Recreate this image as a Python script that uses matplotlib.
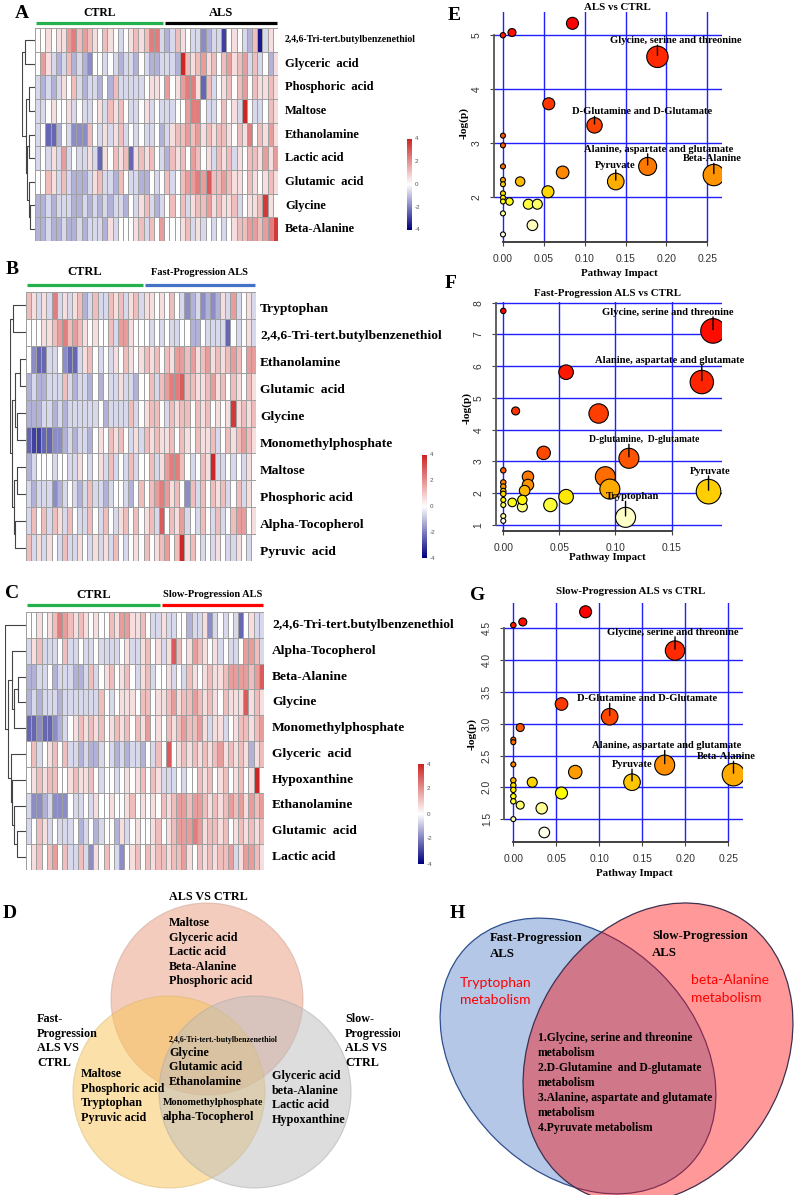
import numpy as np
import matplotlib
matplotlib.use("Agg")
import matplotlib.pyplot as plt
from matplotlib.colors import LinearSegmentedColormap, hsv_to_rgb
from matplotlib.lines import Line2D
from matplotlib.patches import Circle, Ellipse

SERIF = "Liberation Serif"
SANS = "Liberation Sans"

# ---- heatmap data: one hex digit per sample, value = (digit - 8) * 0.6 ----
a_names = ["2,4,6-Tri-tert.butylbenzenethiol", "Glyceric  acid", "Phosphoric  acid", "Maltose",
           "Ethanolamine", "Lactic acid", "Glutamic  acid", "Glycine", "Beta-Alanine"]
a_cells = [
    "88989 9bcab a98a9 8789a 9acc7 | 67a98 77567 73898 76a27 98",
    "8b976 7a676 58878 76776 87667 | 776fa 9ab9a 8ab9a b7a78 69",
    "76767 98a76 77686 a7777 78998 | b89bc c94a7 89a8a b8a99 a9",
    "77898 89787 7897a 9a877 89787 | 7788b cc877 8a897 f8778 a9",
    "78446 87555 a8797 9a787 87786 | 79aab ab9a9 aa98a 9c8a9 b9",
    "78797 b7877 97498 a9a49 a9a87 | 6a9a8 ba897 a9a79 8aa9b 9b",
    "88a97 a7666 79a77 6a877 66878 | a78ab bcbda aba99 8a989 a9",
    "66767 77667 67676 77687 9a767 | 8a8a7 9aab9 a99a7 899ae 98",
    "66766 76676 77769 78889 a7a8b | 8889a 79787 8789a abbab ce",
]
a_groups = [("CTRL", 25, "#22b14c", 8.5), ("ALS", 22, "black", 9)]
a_tree = ((0, 1, 0.8), ((2, 3, 0.45), ((4, 5, 0.45), (6, (7, 8, 0.4), 0.5), 0.6), 0.7), 1.0)

b_names = ["Tryptophan", "2,4,6-Tri-tert.butylbenzenethiol", "Ethanolamine", "Glutamic  acid",
           "Glycine", "Monomethylphosphate", "Maltose", "Phosphoric acid", "Alpha-Tocopherol",
           "Pyruvic  acid"]
b_cells = [
    "a9797 c7979 a67a7 7a9a7 9a7 | 99898 a8756 75656 97b78 97",
    "88899 abcab a9898 8a7bb 988 | 87878 77886 68777 74878 97",
    "85447 78544 79a87 8798a 989 | a9a8a 9bbab 9ab9a 9aba8 bb",
    "67667 77a76 77686 87797 768 | 8a7ab ccdaa 99ab9 a8a98 a9",
    "66677 67677 77778 67777 a78 | 9aa87 a9aa8 a9a89 89e9a 9a",
    "43344 55676 77689 8a9a8 797 | a9a99 a8a98 a99a7 8a9ab a9",
    "67888 78877 98789 7a787 a78 | 8a79b cca87 8a9f7 78787 98",
    "76777 56787 67a77 67887 68a | 8abcb 9a85a 7a8a9 a78a7 98",
    "7a8a7 a97a8 77a87 a879a 8a8 | 9a7d8 a9b78 7a87a 78abb 89",
    "a7979 87a77 98797 97a87 898 | a89ab 8af9a 87879 87798 78",
]
b_groups = [("CTRL", 23, "#22b14c", 9), ("Fast-Progression ALS", 22, "#4472c4", 7.5)]
b_tree = ((0, 1, 0.8), (((2, 3, 0.38), (4, 5, 0.56), 0.69), ((6, 7, 0.56), (8, 9, 0.69), 0.75), 0.87), 1.0)

c_names = ["2,4,6-Tri-tert.butylbenzenethiol", "Alpha-Tocopherol", "Beta-Alanine", "Glycine",
           "Monomethylphosphate", "Glyceric  acid", "Hypoxanthine", "Ethanolamine",
           "Glutamic  acid", "Lactic acid"]
c_cells = [
    "88989 acba9 a9898 8a9bb 99a877 | 97788 67795 78787 48977",
    "79a77 78a77 87787 77789 779a89 | 79da8 9ba98 97877 8bba7",
    "66778 67776 67a78 9a89a 879a78 | 89787 a989a 99abb bbabd",
    "67677 76777 7777a 87899 98aa89 | 9ab9a aba9a 98a99 9d9a9",
    "44544 56789 a9a9a 89a9a 8a9b89 | 8a9ab aab97 99789 aa9ab",
    "8a789 a8a77 67667 87676 77687a | 8d89a 9a9a9 ab9a9 a969a",
    "89a9a a889a 99a87 88789 89a8a9 | 77787 88a9a 89a89 a89f8",
    "75567 55587 78798 89889 a89898 | a9abb abba9 a9aba b9bab",
    "78a97 87778 67867 88697 89889a | 89abb bcb9a a9a89 a9a9a",
    "89a8a b8a77 a7598 a8758 9a8a9a | a9aab 98a9a 9aab7 9bba9",
]
c_groups = [("CTRL", 26, "#22b14c", 9), ("Slow-Progression ALS", 20, "#ff0000", 7.5)]
c_tree = (0, ((1, ((2, 3, 0.4), 4, 0.55), 0.65), (5, (6, (7, (8, 9, 0.45), 0.55), 0.65), 0.72), 0.85), 1.0)

# ---- pathway bubble data: impact, -log(p), bubble radius (px) ----
e_x = [0.0, 0.011, 0.085, 0.189, 0.056, 0.112, 0.0, 0.0, 0.0, 0.073, 0.177, 0.258, 0.138, 0.021,
       0.0, 0.0, 0.055, 0.0, 0.0, 0.0, 0.008, 0.031, 0.042, 0.0, 0.036, 0.0]
e_y = [5.00, 5.05, 5.22, 4.60, 3.73, 3.33, 3.14, 2.96, 2.57, 2.46, 2.57, 2.41, 2.29, 2.29,
       2.32, 2.24, 2.10, 2.07, 1.99, 1.92, 1.92, 1.87, 1.87, 1.70, 1.48, 1.31]
e_r = [2.7, 4.0, 6.0, 10.7, 6.0, 7.7, 2.5, 2.5, 2.5, 6.3, 9.0, 10.7, 8.3, 4.7,
       2.5, 2.5, 6.0, 2.5, 2.5, 2.5, 3.7, 5.0, 5.0, 2.5, 5.3, 2.5]

f_x = [0.0, 0.187, 0.056, 0.177, 0.011, 0.085, 0.036, 0.112, 0.0, 0.091, 0.022, 0.022, 0.095,
       0.183, 0.019, 0.0, 0.0, 0.0, 0.0, 0.056, 0.008, 0.017, 0.042, 0.017, 0.0, 0.0, 0.109,
       0.0, 0.0]
f_y = [7.74, 7.11, 5.81, 5.50, 4.59, 4.51, 3.27, 3.10, 2.72, 2.52, 2.52, 2.26, 2.13,
       2.05, 2.08, 2.34, 2.21, 2.07, 1.98, 1.89, 1.71, 1.79, 1.63, 1.57, 1.79, 1.63, 1.24,
       1.28, 1.13]
f_r = [2.7, 12.3, 7.3, 11.7, 4.0, 9.7, 6.7, 10.0, 2.7, 10.0, 5.7, 5.7, 10.0,
       12.3, 5.3, 2.7, 2.7, 2.7, 2.7, 7.3, 4.3, 4.7, 6.7, 5.0, 2.5, 2.5, 10.0,
       2.5, 2.5]

g_x = [0.0, 0.011, 0.084, 0.188, 0.056, 0.112, 0.008, 0.0, 0.0, 0.176, 0.072, 0.256, 0.0,
       0.138, 0.022, 0.0, 0.0, 0.0, 0.0, 0.0, 0.056, 0.008, 0.033, 0.0, 0.036]
g_y = [4.55, 4.60, 4.76, 4.15, 3.31, 3.11, 2.94, 2.75, 2.71, 2.35, 2.24, 2.20, 2.36,
       2.08, 2.08, 2.11, 2.03, 1.96, 1.86, 1.78, 1.91, 1.72, 1.67, 1.50, 1.29]
g_r = [2.7, 4.0, 6.0, 9.7, 6.3, 8.3, 4.0, 2.5, 2.5, 10.0, 6.7, 11.3, 2.5,
       8.3, 5.0, 2.7, 2.7, 2.7, 2.7, 2.7, 6.0, 4.0, 5.7, 2.5, 5.3]

W, H = 796, 1195
fig = plt.figure(figsize=(W / 100, H / 100), dpi=100)
cmap = LinearSegmentedColormap.from_list("nwr", ["#000080", "#ffffff", "#cd2626"])


def box(x0, y0, x1, y1):
    ax = fig.add_axes([x0 / W, 1 - y1 / H, (x1 - x0) / W, (y1 - y0) / H])
    ax.patch.set_alpha(0)
    return ax


def ftext(x, y, s, size, **kw):
    kw.setdefault("family", SERIF)
    kw.setdefault("weight", "bold")
    kw.setdefault("va", "center")
    fig.text(x / W, 1 - y / H, s, fontsize=size, **kw)


def hline(x0, x1, y, color, lw):
    fig.add_artist(Line2D([x0 / W, x1 / W], [1 - y / H] * 2, color=color, lw=lw,
                          transform=fig.transFigure, solid_capstyle="butt"))


def dendro(ax, node):
    if isinstance(node, int):
        return node + 0.5, 0.0
    left, right, h = node
    y1, h1 = dendro(ax, left)
    y2, h2 = dendro(ax, right)
    ax.plot([h1, h, h, h2], [y1, y1, y2, y2], color="#444444", lw=0.8)
    return (y1 + y2) / 2, h


def heatmap(cells, names, tree, groups, hm, dx0, label_x, label_size, tri_size, label_dy,
            group_y, bar_y, cb):
    data = np.array([[(int(c, 16) - 8) * 0.6 for c in r if c not in " |"] for r in cells])
    nrow, ncol = data.shape
    x0, y0, x1, y1 = hm
    ax = box(*hm)
    ax.pcolormesh(data, cmap=cmap, vmin=-4, vmax=4, edgecolors="#a0a0a0", linewidth=0.6)
    ax.set_xlim(0, ncol)
    ax.set_ylim(nrow, 0)
    ax.axis("off")

    axd = box(dx0, y0, x0, y1)
    dendro(axd, tree)
    axd.set_xlim(1.0, 0)
    axd.set_ylim(nrow, 0)
    axd.axis("off")

    rh = (y1 - y0) / nrow
    for i, name in enumerate(names):
        size = tri_size if name.startswith("2,4,6") else label_size
        ftext(label_x, y0 + (i + 0.5) * rh + label_dy, name, size, ha="left")

    cw = (x1 - x0) / ncol
    c = 0
    for label, n, color, ts in groups:
        xa, xb = x0 + c * cw, x0 + (c + n) * cw
        hline(xa + 1, xb - 1, bar_y, color, 2.3)
        ftext((xa + xb) / 2, group_y, label, ts, ha="center")
        c += n

    bx0, by0, bx1, by1 = cb
    axc = box(*cb)
    axc.imshow(np.linspace(4, -4, 200)[:, None], aspect="auto", cmap=cmap, vmin=-4, vmax=4,
               extent=(0, 1, -4, 4))
    axc.set_xticks([])
    axc.set_yticks([])
    for s in axc.spines.values():
        s.set_visible(False)
    for v in (4, 2, 0, -2, -4):
        ftext(bx1 + 3, by0 + (4 - v) / 8 * (by1 - by0), str(v), 4.5, family=SANS,
              weight="normal", color="#555555", ha="left")


def heat_colors(n):
    j = n // 4
    i = n - j
    cols = [hsv_to_rgb((h, 1, 1)) for h in np.linspace(0, 1 / 6, i)]
    if j > 0:
        cols += [hsv_to_rgb((1 / 6, s, 1)) for s in np.linspace(1 - 1 / (2 * j), 1 / (2 * j), j)]
    return cols


def bubble(bx, xs, ys, rs, xlim, ylim, xt, yt, yfmt, ybounds, labels):
    xs, ys, rs = np.array(xs), np.array(ys), np.array(rs)
    ax = box(*bx)
    ax.set_xlim(*xlim)
    ax.set_ylim(*ylim)
    for v in xt:
        ax.axvline(v, color="#1f1fff", lw=1.0, zorder=1)
    for v in yt:
        ax.axhline(v, color="#1f1fff", lw=1.0, zorder=1)
    cols = heat_colors(len(ys))
    colors = np.zeros((len(ys), 3))
    for k, idx in enumerate(np.argsort(-ys, kind="stable")):
        colors[idx] = cols[k]
    order = np.argsort(-rs, kind="stable")
    ax.scatter(xs[order], ys[order], s=(2 * rs[order] * 0.72) ** 2, c=colors[order],
               edgecolors="black", linewidths=0.8, zorder=3)
    for s in ("top", "right"):
        ax.spines[s].set_visible(False)
    ax.spines["left"].set_bounds(*ybounds)
    ax.spines["left"].set_color("#555555")
    ax.spines["left"].set_linewidth(1.3)
    ax.spines["bottom"].set_bounds(xt[0], xt[-1])
    ax.spines["bottom"].set_color("#333333")
    ax.spines["bottom"].set_linewidth(1.3)
    ax.set_xticks(xt)
    ax.set_xticklabels([f"{v:.2f}" for v in xt])
    ax.set_yticks(yt)
    ax.set_yticklabels([yfmt.format(v) for v in yt], rotation=90, va="center")
    ax.tick_params(length=3, width=0.8, color="#444444", labelsize=7.4, labelcolor="#333333",
                   pad=6)
    for lab in ax.get_xticklabels() + ax.get_yticklabels():
        lab.set_family(SANS)
    for name, idx, dx, dy, size in labels:
        x, y = xs[idx], ys[idx]
        ax.annotate("", xy=(x, y), xytext=(0, (dy - 2) * 0.72), textcoords="offset points",
                    arrowprops=dict(arrowstyle="-", color="black", lw=1.0, shrinkA=0, shrinkB=1),
                    zorder=4)
        ax.annotate(name, xy=(x, y), xytext=(dx * 0.72, dy * 0.72), textcoords="offset points",
                    ha="center", va="baseline", fontsize=size, family=SERIF, weight="bold",
                    zorder=5)
    return ax


# ---------------- heatmaps A, B, C ----------------
heatmap(a_cells, a_names, a_tree, a_groups, (35, 28, 278, 241), 22, 285, 9, 7, 0,
        12.5, 23, (407, 139, 412, 230))
heatmap(b_cells, b_names, b_tree, b_groups, (26, 292, 256, 561), 10, 260, 9.7, 9.7, 4,
        272, 285, (422, 455, 427, 558))
heatmap(c_cells, c_names, c_tree, c_groups, (26, 612, 264, 870), 5, 272, 9.7, 9.7, 0,
        594.5, 605, (418, 764, 424, 864))

ftext(15, 13, "A", 14, ha="left")
ftext(6, 270, "B", 14, ha="left")
ftext(5, 594, "C", 14, ha="left")
ftext(3, 913, "D", 14, ha="left")
ftext(448, 16, "E", 14, ha="left")
ftext(445, 283, "F", 14, ha="left")
ftext(470, 595, "G", 14, ha="left")
ftext(450, 913, "H", 14, ha="left")

# ---------------- bubble plots E, F, G ----------------
bubble((494, 12, 722, 242), e_x, e_y, e_r, (-0.011, 0.268), (1.17, 5.43),
       [0.0, 0.05, 0.10, 0.15, 0.20, 0.25], [2, 3, 4, 5], "{:g}", (2, 5),
       [("Glycine, serine and threonine", 3, 18, 13.7, 7.6),
        ("D-Glutamine and D-Glutamate", 5, 48, 11, 7.6),
        ("Alanine, aspartate and glutamate", 10, 11, 14.6, 7.6),
        ("Beta-Alanine", 11, -1, 13.7, 7.6),
        ("Pyruvate", 12, -1, 13.7, 7.6)])
ftext(617, 7, "ALS vs CTRL", 7.8, ha="center")
ftext(464, 123, "-log(p)", 8.2, ha="center", rotation=90)
ftext(619, 273, "Pathway Impact", 7.8, ha="center")

bubble((496, 302, 722, 530.7), f_x, f_y, f_r, (-0.0065, 0.195), (0.82, 8.02),
       [0.0, 0.05, 0.10, 0.15], [1, 2, 3, 4, 5, 6, 7, 8], "{:g}", (1, 8),
       [("Glycine, serine and threonine", 1, -45, 16, 7.6),
        ("Alanine, aspartate and glutamate", 3, -32, 19.3, 7.6),
        ("D-glutamine,  D-glutamate", 7, 15, 16, 6.9),
        ("Pyruvate", 13, 2, 17.7, 7.6),
        ("Tryptophan", 26, 7, 18, 7.6)])
ftext(608, 294, "Fast-Progression ALS vs CTRL", 7.8, ha="center")
ftext(467, 408, "-log(p)", 8.2, ha="center", rotation=90)
ftext(607, 558, "Pathway Impact", 7.8, ha="center")

bubble((504.3, 603, 743.3, 841.7), g_x, g_y, g_r, (-0.0105, 0.2674), (1.145, 4.898),
       [0.0, 0.05, 0.10, 0.15, 0.20, 0.25], [1.5, 2.0, 2.5, 3.0, 3.5, 4.0, 4.5], "{:.1f}",
       (1.5, 4.5),
       [("Glycine, serine and threonine", 3, -2, 15.7, 7.6),
        ("D-Glutamine and D-Glutamate", 5, 37, 15.3, 7.6),
        ("Alanine, aspartate and glutamate", 9, 2, 16.7, 7.6),
        ("Beta-Alanine", 11, -7, 15.3, 7.6),
        ("Pyruvate", 13, 0, 15, 7.6)])
ftext(631, 591, "Slow-Progression ALS vs CTRL", 7.8, ha="center")
ftext(472, 734, "-log(p)", 8.2, ha="center", rotation=90)
ftext(634, 873, "Pathway Impact", 7.8, ha="center")

# ---------------- Venn D ----------------
axv = box(0, 880, 400, 1195)
axv.set_xlim(0, 400)
axv.set_ylim(1195, 880)
axv.axis("off")
for (cx, cy), fc, ec in [((207, 999), (235, 155, 125), "#c9a090"),
                         ((169, 1092), (249, 197, 85), "#d9b870"),
                         ((255, 1092), (189, 189, 189), "#a8a8a8")]:
    axv.add_patch(Circle((cx, cy), 96, facecolor=np.array(fc) / 255, alpha=0.5,
                         edgecolor=ec, lw=0.8))


def vtext(x, y, s, size=8.7):
    axv.text(x, y, s, fontsize=size, family=SERIF, weight="bold", va="center", ha="left",
             clip_on=True)


vtext(169, 897, "ALS VS CTRL")
for k, s in enumerate(["Maltose", "Glyceric acid", "Lactic acid", "Beta-Alanine", "Phosphoric acid"]):
    vtext(169, 923 + 14.6 * k, s)
for k, s in enumerate(["Fast-", "Progression", "ALS VS", "CTRL"]):
    vtext(37, 1019 + 14.6 * k, s)
    vtext(345, 1019 + 14.6 * k, ["Slow-", "Progression", "ALS VS", "CTRL"][k])
for k, s in enumerate(["Maltose", "Phosphoric acid", "Tryptophan", "Pyruvic acid"]):
    vtext(81, 1074 + 14.6 * k, s)
vtext(169, 1040, "2,4,6-Tri-tert.-butylbenzenethiol", 5.7)
for k, s in enumerate(["Glycine", "Glutamic acid", "Ethanolamine"]):
    vtext(169, 1052.7 + 14.6 * k, s)
vtext(163, 1102.7, "Monomethylphosphate", 7.3)
vtext(163, 1117.3, "alpha-Tocopherol")
for k, s in enumerate(["Glyceric acid", "beta-Alanine", "Lactic acid", "Hypoxanthine"]):
    vtext(272, 1075.7 + 14.8 * k, s)

# ---------------- Venn H ----------------
axh = box(400, 880, 796, 1195)
axh.set_xlim(400, 796)
axh.set_ylim(1195, 880)
axh.axis("off")
axh.add_patch(Ellipse((578, 1056), 312, 234, angle=45, facecolor=(180 / 255, 199 / 255, 231 / 255),
                      edgecolor="#2f4f8f", lw=0.9))
axh.add_patch(Ellipse((658, 1053), 316, 251, angle=-58.9, facecolor=(1, 0, 0, 0.4),
                      edgecolor="#3d3050", lw=0.9))
axh.text(490, 937.7, "Fast-Progression", fontsize=9.3, family=SERIF, weight="bold", va="center")
axh.text(490, 954.3, "ALS", fontsize=9.3, family=SERIF, weight="bold", va="center")
axh.text(652, 935.7, "Slow-Progression", fontsize=9.3, family=SERIF, weight="bold", va="center")
axh.text(652, 953, "ALS", fontsize=9.3, family=SERIF, weight="bold", va="center")
axh.text(460, 983.3, "Tryptophan", fontsize=10, family="Lato", color="#ff0000", va="center")
axh.text(460, 1000.3, "metabolism", fontsize=10, family="Lato", color="#ff0000", va="center")
axh.text(691, 980.3, "beta-Alanine", fontsize=10, family="Lato", color="#ff0000", va="center")
axh.text(691, 998, "metabolism", fontsize=10, family="Lato", color="#ff0000", va="center")
h_lines = ["1.Glycine, serine and threonine", "metabolism", "2.D-Glutamine  and D-glutamate",
           "metabolism", "3.Alanine, aspartate and glutamate", "metabolism", "4.Pyruvate metabolism"]
for k, s in enumerate(h_lines):
    axh.text(538, 1038 + 15 * k, s, fontsize=8.4, family=SERIF, weight="bold", va="center")

fig.savefig("out.png", dpi=100)
